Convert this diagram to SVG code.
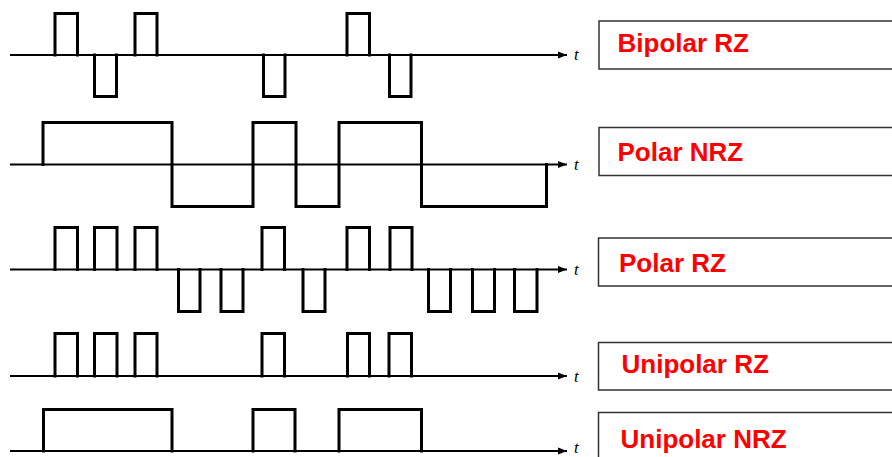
<svg xmlns="http://www.w3.org/2000/svg" width="892" height="457" viewBox="0 0 892 457">
<style>
.axis{stroke:#000;stroke-width:2;fill:none}
.sig{stroke:#000;stroke-width:3;fill:none;stroke-linejoin:miter;stroke-linecap:square}
.t{font-family:"Liberation Serif",serif;font-style:italic;font-size:17px;fill:#000}
.box{fill:#fff;stroke:#333;stroke-width:1.5}
.lbl{font-family:"Liberation Sans",Arial,sans-serif;font-weight:bold;font-size:26px;fill:#ff0000}
</style>
<defs>
<marker id="arr" viewBox="0 0 10 10" refX="10" refY="5" markerWidth="9" markerHeight="9" markerUnits="userSpaceOnUse" orient="auto">
<path d="M0,1 L10,5 L0,9 Z" fill="#000"/>
</marker>
</defs>
<rect width="892" height="457" fill="#fff"/>
<g id="axes">
<line class="axis" x1="10" y1="55" x2="567" y2="55" marker-end="url(#arr)"/>
<line class="axis" x1="10" y1="164.5" x2="567" y2="164.5" marker-end="url(#arr)"/>
<line class="axis" x1="10" y1="269.5" x2="567" y2="269.5" marker-end="url(#arr)"/>
<line class="axis" x1="10" y1="376" x2="567" y2="376" marker-end="url(#arr)"/>
<line class="axis" x1="10" y1="451" x2="567" y2="451" marker-end="url(#arr)"/>
</g>
<g id="bipolar-rz">
<path class="sig" d="M55,55 V13.5 H77.5 V55 M94.5,55 V96.5 H116.5 V55 M135,55 V13.5 H157 V55 M263.5,55 V96.5 H285 V55 M347,55 V13.5 H369.5 V55 M389.5,55 V96.5 H411 V55"/>
<text class="t" x="574" y="60">t</text>
</g>
<g id="polar-nrz">
<path class="sig" d="M43,164.5 V122.5 H172 V206.5 H253 V122.5 H296 V206.5 H339 V122.5 H421.5 V206.5 H546.5 V164.5"/>
<text class="t" x="574" y="170">t</text>
</g>
<g id="polar-rz">
<path class="sig" d="M55,269.5 V227.5 H77.5 V269.5 M94.5,269.5 V227.5 H117 V269.5 M135,269.5 V227.5 H157 V269.5 M178.5,269.5 V311.5 H200 V269.5 M221,269.5 V311.5 H243 V269.5 M262,269.5 V227.5 H284.5 V269.5 M303,269.5 V311.5 H325 V269.5 M347,269.5 V227.5 H369.5 V269.5 M390,269.5 V227.5 H412 V269.5 M428.5,269.5 V311.5 H450.5 V269.5 M472.5,269.5 V311.5 H494.5 V269.5 M514.5,269.5 V311.5 H537 V269.5"/>
<text class="t" x="574" y="275">t</text>
</g>
<g id="unipolar-rz">
<path class="sig" d="M55,376 V333.5 H77.5 V376 M94.5,376 V333.5 H117 V376 M135,376 V333.5 H157 V376 M262,376 V333.5 H284.5 V376 M347.5,376 V333.5 H369.5 V376 M389,376 V333.5 H411.5 V376"/>
<text class="t" x="574" y="382">t</text>
</g>
<g id="unipolar-nrz">
<path class="sig" d="M43.5,451 V409.5 H172 V451 M253,451 V409.5 H295 V451 M339,451 V409.5 H421.5 V451"/>
<text class="t" x="574" y="453">t</text>
</g>
<g id="label-bipolar-rz">
<rect class="box" x="599" y="21" width="320" height="48"/>
<text class="lbl" x="617.5" y="51.5">Bipolar RZ</text>
</g>
<g id="label-polar-nrz">
<rect class="box" x="599" y="127.5" width="320" height="48"/>
<text class="lbl" x="617.5" y="161">Polar NRZ</text>
</g>
<g id="label-polar-rz">
<rect class="box" x="598.5" y="238" width="320" height="48"/>
<text class="lbl" x="619" y="271.5">Polar RZ</text>
</g>
<g id="label-unipolar-rz">
<rect class="box" x="598.5" y="342.5" width="320" height="47.5"/>
<text class="lbl" x="621.5" y="372.5">Unipolar RZ</text>
</g>
<g id="label-unipolar-nrz">
<rect class="box" x="598.5" y="412.5" width="320" height="60"/>
<text class="lbl" x="620.5" y="447.5">Unipolar NRZ</text>
</g>
</svg>
